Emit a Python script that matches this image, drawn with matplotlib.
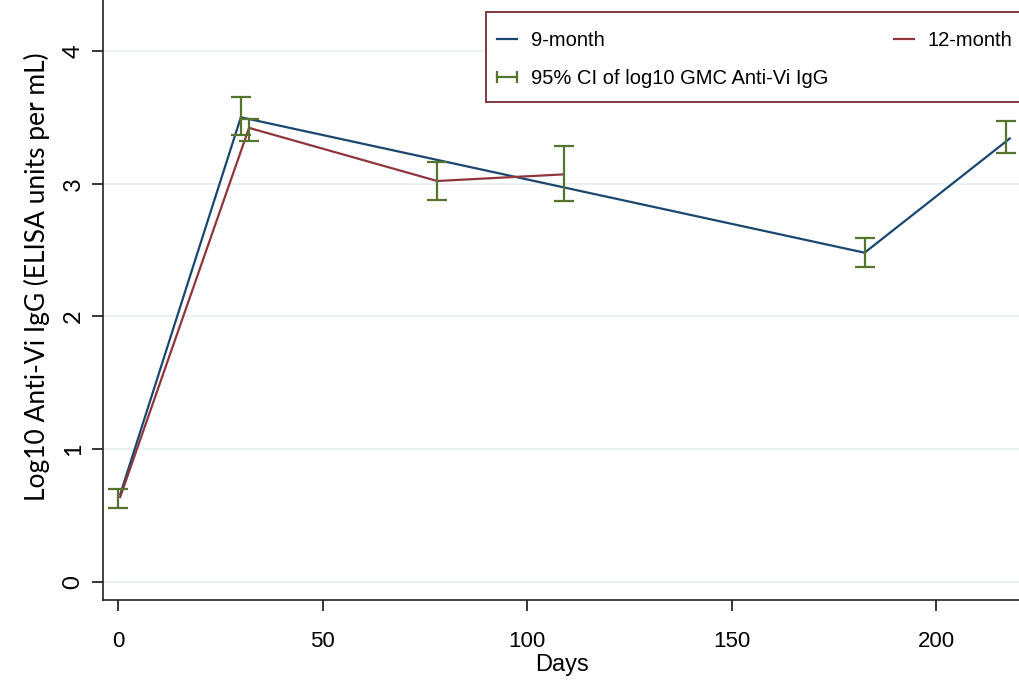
import matplotlib
matplotlib.use('Agg')
import matplotlib.pyplot as plt
from matplotlib.lines import Line2D
from matplotlib.patches import Rectangle

plt.rcParams['font.family'] = ['Liberation Sans', 'DejaVu Sans']

# 9-month group
days_9 = [0.5, 30, 182.5, 218]
gmc_9 = [0.66, 3.50, 2.48, 3.34]

# 12-month group
days_12 = [0.5, 32, 78, 109]
gmc_12 = [0.64, 3.42, 3.02, 3.07]

# 95% CI bars
ci_days = [0, 30, 32, 78, 109, 182.5, 217]
ci_low = [0.56, 3.37, 3.32, 2.88, 2.87, 2.37, 3.23]
ci_high = [0.70, 3.65, 3.49, 3.16, 3.28, 2.59, 3.47]

blue = '#1a476f'
red = '#90353b'
green = '#55752f'

fig = plt.figure(figsize=(10.2, 6.81), dpi=100)
ax = fig.add_axes([0.101, 0.119, 0.899, 0.881])

ax.plot(days_9, gmc_9, color=blue, lw=1.6, zorder=3)
ax.plot(days_12, gmc_12, color=red, lw=1.6, zorder=3)

mid = [(lo + hi) / 2 for lo, hi in zip(ci_low, ci_high)]
err = [[m - lo for m, lo in zip(mid, ci_low)], [hi - m for m, hi in zip(mid, ci_high)]]
ax.errorbar(ci_days, mid, yerr=err, fmt='none', ecolor=green, elinewidth=1.6,
            capsize=7, capthick=1.6, zorder=4)

ax.set_xlim(-3.7, 220.5)
ax.set_ylim(-0.135, 4.383)
ax.set_xticks([0, 50, 100, 150, 200])
ax.set_yticks([0, 1, 2, 3, 4])
ax.grid(axis='y', color='#e6eff0', lw=1.2)
ax.set_axisbelow(True)

for s in ['top', 'right']:
    ax.spines[s].set_visible(False)
for s in ['left', 'bottom']:
    ax.spines[s].set_color('#222222')
    ax.spines[s].set_linewidth(1.2)

ax.tick_params(axis='both', direction='out', length=8, width=1.1)
ax.tick_params(axis='x', labelsize=16, pad=14)
ax.tick_params(axis='y', labelsize=17, pad=6)
for lab in ax.get_yticklabels():
    lab.set_rotation(90)
    lab.set_va('center')
    lab.set_family(['Lato', 'DejaVu Sans'])

ax.set_xlabel('Days', fontsize=17, labelpad=2)
ax.set_ylabel('Log10 Anti-Vi IgG (ELISA units per mL)', fontsize=19,
              family=['Lato', 'DejaVu Sans'])
ax.yaxis.set_label_coords(-0.058, 0.538)

# legend frame drawn separately (it runs off the right edge)
frame = Rectangle((0.4177, 0.83), 0.6, 0.15, transform=ax.transAxes, fill=True,
                  facecolor='white', edgecolor='#7a2a30', lw=1.3, clip_on=False, zorder=5)
ax.add_patch(frame)

h9 = Line2D([], [], color=blue, lw=1.6)
h12 = Line2D([], [], color=red, lw=1.6)
hci = Line2D([], [], color=green, lw=1.6, marker='|', markersize=9, markeredgewidth=1.6)
leg = ax.legend([h9, hci, h12], ['9-month', '95% CI of log10 GMC Anti-Vi IgG', '12-month'],
                ncol=2, loc='upper left', bbox_to_anchor=(0.423, 0.938, 0.569, 0.01),
                mode='expand', borderaxespad=0, fontsize=14.5, frameon=False,
                numpoints=2, handlelength=1.6, handletextpad=0.4, labelspacing=0.95,
                borderpad=0)
leg.set_zorder(6)

fig.savefig('out.png', dpi=100)
